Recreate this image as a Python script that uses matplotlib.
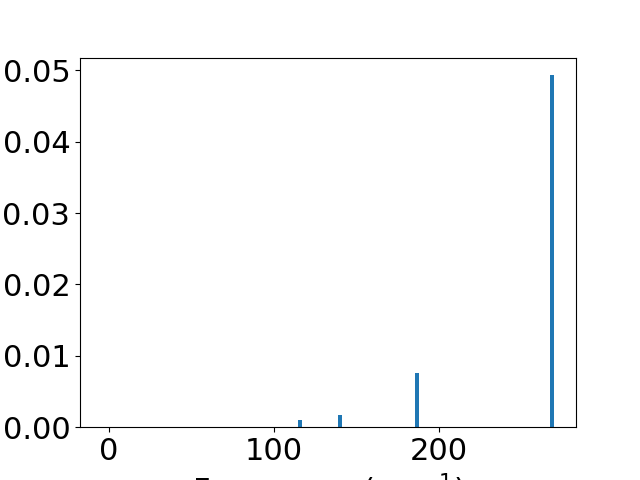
import matplotlib
matplotlib.use("Agg")
import matplotlib.pyplot as plt

# =========================
# DATA
# =========================
freqs = [116.0, 140.5, 187.0, 268.5]
intensities = [0.00102, 0.00172, 0.0076, 0.0493]
bar_width = 2.4

plt.rcParams["font.size"] = 22

fig, ax = plt.subplots(figsize=(6.4, 4.8), dpi=100)
ax.bar(freqs, intensities, width=bar_width, color="#1f77b4")
ax.set_xlim(-17.3, 283.3)
ax.set_xticks([0, 100, 200])
ax.set_yticks([0.0, 0.01, 0.02, 0.03, 0.04, 0.05])
ax.set_xlabel("Frequency (cm$^{-1}$)")

fig.savefig("out.png")
